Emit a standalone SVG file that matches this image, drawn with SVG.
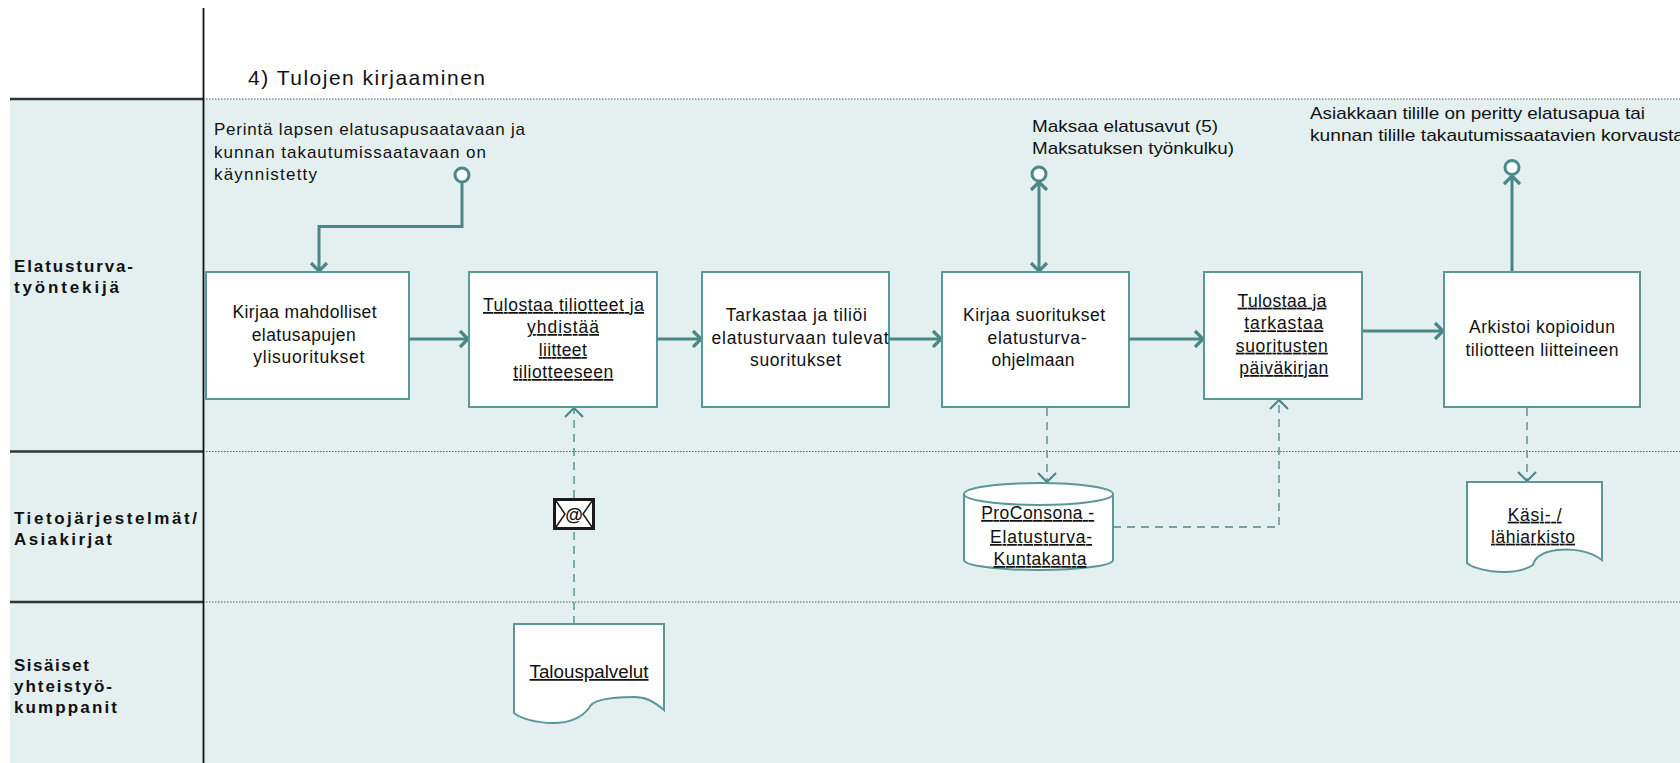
<svg xmlns="http://www.w3.org/2000/svg" width="1680" height="763" viewBox="0 0 1680 763">
<style>
text{font-family:"Liberation Sans",Arial,sans-serif;fill:#111}
.t{font-size:17.5px;text-anchor:middle}
.u{text-decoration:underline;text-decoration-thickness:2px}
.ev{font-size:17px}
.lane{font-size:17px;font-weight:bold}
.box{fill:#fff;stroke:#5A9797;stroke-width:2}
.solid{fill:none;stroke:#4A8888;stroke-width:3}
.dash{fill:none;stroke:#6FA3A3;stroke-width:1.8;stroke-dasharray:8,6}
.evc{fill:#fff;stroke:#4A8888;stroke-width:3}
.sep{stroke:#333;stroke-width:2.5}
.dot{stroke:#555;stroke-width:1.2;stroke-dasharray:1.5,1.5}
</style>
<defs>
<marker id="ah" markerUnits="userSpaceOnUse" markerWidth="20" markerHeight="20" viewBox="0 0 20 20" refX="11" refY="10" orient="auto-start-reverse">
<path d="M3,2 L11,10 L3,18" fill="none" stroke="#4A8888" stroke-width="3.2"/>
</marker>
<marker id="ahd" markerUnits="userSpaceOnUse" markerWidth="22" markerHeight="22" viewBox="0 0 22 22" refX="11" refY="11" orient="auto">
<path d="M2,2 L11,11 L2,20" fill="none" stroke="#4A8888" stroke-width="2.2"/>
</marker>
</defs>
<rect x="0" y="0" width="1680" height="763" fill="#fff"/>
<rect x="10" y="99" width="1670" height="664" fill="#E4F0F0"/>
<g id="lanes">
<line class="sep" x1="10" y1="99" x2="203" y2="99"/>
<line class="sep" x1="10" y1="451.5" x2="203" y2="451.5"/>
<line class="sep" x1="10" y1="602" x2="203" y2="602"/>
<line class="dot" x1="203" y1="99" x2="1680" y2="99"/>
<line class="dot" x1="203" y1="451.5" x2="1680" y2="451.5"/>
<line class="dot" x1="203" y1="602" x2="1680" y2="602"/>
<line x1="203.5" y1="8" x2="203.5" y2="763" stroke="#111" stroke-width="1.8"/>
<text x="248" y="85" font-size="21" textLength="237" lengthAdjust="spacing">4) Tulojen kirjaaminen</text>
<text class="lane" x="14" y="272" textLength="119" lengthAdjust="spacing">Elatusturva-</text>
<text class="lane" x="14" y="292.5" textLength="105" lengthAdjust="spacing">työntekijä</text>
<text class="lane" x="14" y="524" textLength="183" lengthAdjust="spacing">Tietojärjestelmät/</text>
<text class="lane" x="14" y="545" textLength="98" lengthAdjust="spacing">Asiakirjat</text>
<text class="lane" x="14" y="671" textLength="75" lengthAdjust="spacing">Sisäiset</text>
<text class="lane" x="14" y="692" textLength="98" lengthAdjust="spacing">yhteistyö-</text>
<text class="lane" x="14" y="713" textLength="103" lengthAdjust="spacing">kumppanit</text>
</g>
<g id="connectors">
<path class="solid" d="M462,182 V226.5 H319 V271" marker-end="url(#ah)"/>
<path class="solid" d="M409,339 H468" marker-end="url(#ah)"/>
<path class="solid" d="M657,339 H701" marker-end="url(#ah)"/>
<path class="solid" d="M889,339 H941" marker-end="url(#ah)"/>
<path class="solid" d="M1129,339 H1203" marker-end="url(#ah)"/>
<path class="solid" d="M1362,331 H1443" marker-end="url(#ah)"/>
<path class="solid" d="M1039,182 V271" marker-start="url(#ah)" marker-end="url(#ah)"/>
<path class="solid" d="M1512,272 V176" marker-end="url(#ah)"/>
<path class="dash" d="M1047,408 V482" marker-end="url(#ahd)"/>
<path class="dash" d="M1113,527 H1279 V400" marker-end="url(#ahd)"/>
<path class="dash" d="M1527,408 V481" marker-end="url(#ahd)"/>
<path class="dash" d="M574,624 V408" marker-end="url(#ahd)"/>
</g>
<g id="start-event">
<circle class="evc" cx="462" cy="175" r="7"/>
<text class="ev" x="214" y="135" textLength="311" lengthAdjust="spacing">Perintä lapsen elatusapusaatavaan ja</text>
<text class="ev" x="214" y="157.5" textLength="272" lengthAdjust="spacing">kunnan takautumissaatavaan on</text>
<text class="ev" x="214" y="180" textLength="103" lengthAdjust="spacing">käynnistetty</text>
</g>
<g id="event-maksaa">
<circle class="evc" cx="1039" cy="174" r="7"/>
<text class="ev" x="1032" y="131.7" textLength="186" lengthAdjust="spacingAndGlyphs">Maksaa elatusavut (5)</text>
<text class="ev" x="1032" y="154" textLength="202" lengthAdjust="spacingAndGlyphs">Maksatuksen työnkulku)</text>
</g>
<g id="end-event">
<circle class="evc" cx="1512" cy="167.5" r="7"/>
<text class="ev" x="1310" y="119" textLength="335" lengthAdjust="spacingAndGlyphs">Asiakkaan tilille on peritty elatusapua tai</text>
<text class="ev" x="1310" y="140.7" textLength="374" lengthAdjust="spacingAndGlyphs">kunnan tilille takautumissaatavien korvausta</text>
</g>
<g id="box1">
<rect class="box" x="206" y="272" width="203" height="127"/>
<text class="t" x="304.5" y="318" textLength="144" lengthAdjust="spacing">Kirjaa mahdolliset</text>
<text class="t" x="303.7" y="341" textLength="104" lengthAdjust="spacing">elatusapujen</text>
<text class="t" x="308.8" y="363" textLength="111" lengthAdjust="spacing">ylisuoritukset</text>
</g>
<g id="box2">
<rect class="box" x="469" y="272" width="188" height="135"/>
<text class="t u" x="563.5" y="311" textLength="161" lengthAdjust="spacing">Tulostaa tiliotteet ja</text>
<text class="t u" x="563" y="333" textLength="72" lengthAdjust="spacing">yhdistää</text>
<text class="t u" x="562.8" y="356" textLength="48" lengthAdjust="spacing">liitteet</text>
<text class="t u" x="563.3" y="378" textLength="100" lengthAdjust="spacing">tiliotteeseen</text>
</g>
<g id="box3">
<rect class="box" x="702" y="272" width="187" height="135"/>
<text class="t" x="796.3" y="321" textLength="141" lengthAdjust="spacing">Tarkastaa ja tiliöi</text>
<text class="t" x="800" y="343.5" textLength="177" lengthAdjust="spacing">elatusturvaan tulevat</text>
<text class="t" x="795.5" y="366" textLength="91" lengthAdjust="spacing">suoritukset</text>
</g>
<g id="box4">
<rect class="box" x="942" y="272" width="187" height="135"/>
<text class="t" x="1034" y="321" textLength="142" lengthAdjust="spacing">Kirjaa suoritukset</text>
<text class="t" x="1037" y="343.5" textLength="99" lengthAdjust="spacing">elatusturva-</text>
<text class="t" x="1033" y="366" textLength="83" lengthAdjust="spacing">ohjelmaan</text>
</g>
<g id="box5">
<rect class="box" x="1204" y="272" width="158" height="127"/>
<text class="t u" x="1282" y="306.7" textLength="89" lengthAdjust="spacing">Tulostaa ja</text>
<text class="t u" x="1283.8" y="329.3" textLength="79" lengthAdjust="spacing">tarkastaa</text>
<text class="t u" x="1281.8" y="351.7" textLength="92" lengthAdjust="spacing">suoritusten</text>
<text class="t u" x="1283.8" y="374" textLength="89" lengthAdjust="spacing">päiväkirjan</text>
</g>
<g id="box6">
<rect class="box" x="1444" y="272" width="196" height="135"/>
<text class="t" x="1542" y="333.3" textLength="146" lengthAdjust="spacing">Arkistoi kopioidun</text>
<text class="t" x="1542" y="356" textLength="153" lengthAdjust="spacing">tiliotteen liitteineen</text>
</g>
<g id="db-proconsona">
<path class="box" d="M964,494 A74.5,11 0 0 1 1113,494 V560 A74.5,10 0 0 1 964,560 Z"/>
<path class="box" d="M964,494 A74.5,11 0 0 0 1113,494" fill="none"/>
<text class="t u" x="1037.7" y="519" textLength="113" lengthAdjust="spacing">ProConsona -</text>
<text class="t u" x="1041" y="543" textLength="102" lengthAdjust="spacing">Elatusturva-</text>
<text class="t u" x="1040" y="565" textLength="93" lengthAdjust="spacing">Kuntakanta</text>
</g>
<g id="doc-kasi">
<path class="box" d="M1467,482 H1602 V560 C1590,551 1572,548 1557,550 C1542,552 1535,557 1533,565 C1522,572 1505,573 1490,571 C1478,569 1470,566 1467,563 Z"/>
<text class="t u" x="1534.7" y="520.7" textLength="54" lengthAdjust="spacing">Käsi- /</text>
<text class="t u" x="1533" y="542.7" textLength="84" lengthAdjust="spacing">lähiarkisto</text>
</g>
<g id="doc-talous">
<path class="box" d="M514,624 H664 V710 C652,700 645,697 634,697 C610,697 592,700 589,708 C580,720 565,723 553,723 C535,723 520,718 514,713 Z"/>
<text class="t u" x="589" y="678" textLength="119" lengthAdjust="spacingAndGlyphs">Talouspalvelut</text>
</g>
<g id="envelope">
<rect x="554.5" y="499.5" width="39" height="29" fill="#fff" stroke="#1a1a1a" stroke-width="3"/>
<path d="M556,501 L565,514 L556,527 M592,501 L583,514 L592,527" fill="none" stroke="#1a1a1a" stroke-width="1.5"/>
<text x="574" y="520.5" font-size="18" font-weight="bold" text-anchor="middle">@</text>
</g>
</svg>
